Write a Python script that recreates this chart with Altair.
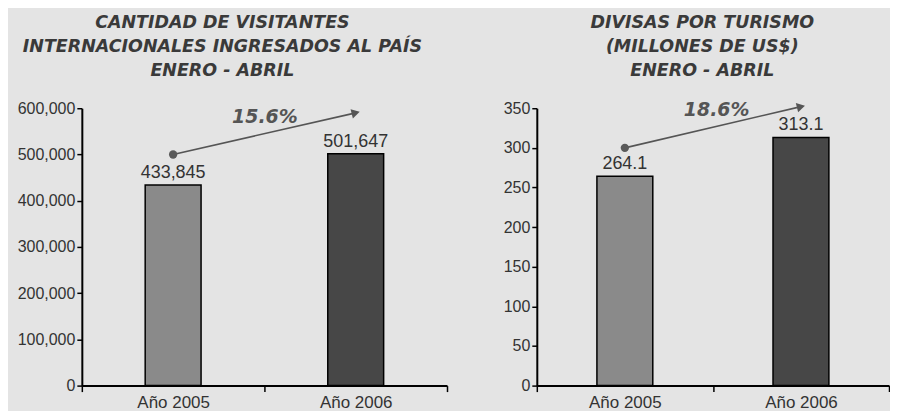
import altair as alt
import pandas as pd

years = ["Año 2005", "Año 2006"]
bar_colors = ["#8a8a8a", "#474747"]

visitors = [433845, 501647]
visitor_labels = ["433,845", "501,647"]
visitor_arrow = [500000, 590000]
visitor_growth = "15.6%"
visitor_growth_y = 582000
visitor_ticks = [0, 100000, 200000, 300000, 400000, 500000, 600000]
visitor_title = ["CANTIDAD DE VISITANTES", "INTERNACIONALES INGRESADOS AL PAÍS", "ENERO - ABRIL"]

divisas = [264.1, 313.1]
divisas_labels = ["264.1", "313.1"]
divisas_arrow = [300, 352]
divisas_growth = "18.6%"
divisas_growth_y = 348
divisas_ticks = [0, 50, 100, 150, 200, 250, 300, 350]
divisas_title = ["DIVISAS POR TURISMO", "(MILLONES DE US$)", "ENERO - ABRIL"]

TXT = "#333333"


def panel(title, values, labels, arrow, growth, growth_y, ticks, fmt, width, min_extent, title_dx):
    ymax = ticks[-1]
    bars_df = pd.DataFrame({"year": years, "value": values, "label": labels})
    arrow_df = pd.DataFrame({"year": years, "value": arrow})
    start_df = arrow_df.iloc[[0]]
    end_df = arrow_df.iloc[[1]]
    growth_df = pd.DataFrame({"year": [years[0]], "value": [growth_y], "label": [growth]})

    x = alt.X("year:N", sort=years, title=None,
              scale=alt.Scale(domain=years, paddingInner=0, paddingOuter=0),
              axis=alt.Axis(labelAngle=0, labelFontSize=17, tickBand="extent",
                            tickSize=6, labelPadding=3, labelColor=TXT))
    y = alt.Y("value:Q", title=None,
              scale=alt.Scale(domain=[0, ymax], nice=False, zero=True),
              axis=alt.Axis(values=ticks, format=fmt, labelFontSize=16, tickSize=5,
                            minExtent=min_extent, labelColor=TXT))

    bars = alt.Chart(bars_df).mark_bar(size=56, stroke="black", strokeWidth=1.5).encode(
        x=x, y=y,
        color=alt.Color("year:N", scale=alt.Scale(domain=years, range=bar_colors), legend=None),
    )
    bar_text = alt.Chart(bars_df).mark_text(
        fontSize=18, font="Liberation Sans", color=TXT, baseline="alphabetic", dy=-7
    ).encode(x=x, y=y, text="label:N")
    line = alt.Chart(arrow_df).mark_line(color="#555555", strokeWidth=1.6).encode(x=x, y=y)
    dot = alt.Chart(start_df).mark_point(shape="circle", filled=True, size=70,
                                         color="#5a5a5a", opacity=1).encode(x=x, y=y)
    head = alt.Chart(end_df).mark_point(shape="triangle-right", filled=True, size=90,
                                        color="#555555", opacity=1, angle=346).encode(x=x, y=y)
    gtext = alt.Chart(growth_df).mark_text(
        font="DejaVu Sans", fontSize=19, fontWeight="bold", fontStyle="italic",
        color="#555555", dx=92, baseline="middle"
    ).encode(x=x, y=y, text="label:N")

    return alt.layer(bars, bar_text, line, dot, head, gtext).properties(
        width=width, height=278,
        title=alt.TitleParams(text=title, font="DejaVu Sans", fontSize=17.5, fontWeight="bold",
                              fontStyle="italic", color="#3a3a3a", lineHeight=24,
                              anchor="middle", frame="bounds", offset=21, dx=title_dx),
    )


left = panel(visitor_title, visitors, visitor_labels, visitor_arrow, visitor_growth,
             visitor_growth_y, visitor_ticks, ",d", 366, 69, -8)
right = panel(divisas_title, divisas, divisas_labels, divisas_arrow, divisas_growth,
              divisas_growth_y, divisas_ticks, "d", 353, 40, 9)

chart = alt.hconcat(left, right, spacing=49).properties(
    background="#e4e4e4",
    padding={"left": 5, "top": 5, "right": 0, "bottom": 0},
).configure_view(stroke=None).configure_axis(
    domainColor="black", domainWidth=2, tickColor="black", tickWidth=1.5,
    labelFont="Liberation Sans", grid=False,
)

chart.save("out.html", embed_options={"renderer": "svg", "actions": False})
